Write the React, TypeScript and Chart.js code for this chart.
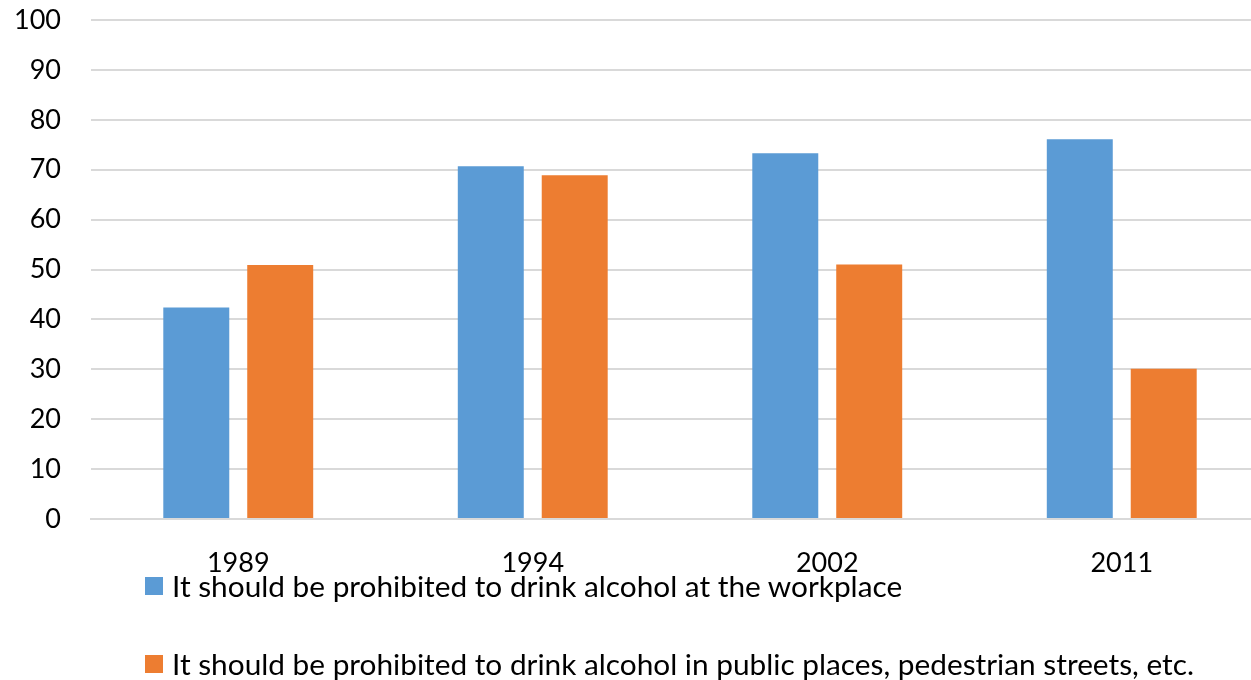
import React, { useEffect, useRef } from "react";
import { Chart, registerables } from "chart.js";

Chart.register(...registerables);

const categories = ["1989", "1994", "2002", "2011"];
const workplace = [42.4, 70.7, 73.3, 76.1];
const publicPlaces = [50.9, 68.9, 51.0, 30.1];
const seriesLabels = [
  "It should be prohibited to drink alcohol at the workplace",
  "It should be prohibited to drink alcohol in public places, pedestrian streets, etc.",
];
const seriesColors = ["#5B9BD5", "#ED7D31"];

const FONT = "Lato, 'Open Sans', sans-serif";

export default function App() {
  const canvasRef = useRef<HTMLCanvasElement | null>(null);

  useEffect(() => {
    if (!canvasRef.current) return;
    const chart = new Chart(canvasRef.current, {
      type: "bar",
      data: {
        labels: categories,
        datasets: [
          {
            label: seriesLabels[0],
            data: workplace,
            backgroundColor: seriesColors[0],
            borderWidth: 0,
          },
          {
            label: seriesLabels[1],
            data: publicPlaces,
            backgroundColor: seriesColors[1],
            borderWidth: 0,
          },
        ],
      },
      options: {
        responsive: false,
        animation: false,
        datasets: {
          bar: { categoryPercentage: 0.57, barPercentage: 0.786 },
        },
        layout: { padding: { top: 20, bottom: 102, left: 0, right: 0 } },
        plugins: {
          legend: { display: false },
          tooltip: { enabled: false },
        },
        scales: {
          x: {
            grid: { display: false },
            border: { display: true, color: "#d9d9d9", width: 2 },
            ticks: {
              color: "#000",
              padding: 20,
              font: { family: FONT, size: 27 },
            },
            afterFit: (scale: any) => {
              scale.height = 59;
              scale.paddingLeft = 0;
              scale.paddingRight = 0;
            },
          },
          y: {
            min: 0,
            max: 100,
            grid: { color: "#d9d9d9", lineWidth: 2, drawTicks: false },
            border: { display: false },
            ticks: {
              stepSize: 10,
              color: "#000",
              padding: 30,
              font: { family: FONT, size: 27 },
            },
            afterFit: (scale: any) => {
              scale.width = 91;
              scale.paddingTop = 0;
              scale.paddingBottom = 0;
            },
          },
        },
      },
    });
    return () => chart.destroy();
  }, []);

  const legendRows = [
    { center: 586, color: seriesColors[0], text: seriesLabels[0] },
    { center: 664, color: seriesColors[1], text: seriesLabels[1] },
  ];

  return (
    <div
      style={{
        position: "absolute",
        left: 0,
        top: 0,
        width: 1251,
        height: 680,
        overflow: "hidden",
        background: "#fff",
      }}
    >
      <canvas ref={canvasRef} width={1269} height={680} style={{ display: "block" }} />
      {legendRows.map((r, i) => (
        <div
          key={i}
          style={{
            position: "absolute",
            left: 145,
            top: r.center - 20,
            height: 40,
            display: "flex",
            alignItems: "center",
            fontFamily: FONT,
            fontSize: 29.8,
            lineHeight: "40px",
            color: "#000",
            whiteSpace: "nowrap",
          }}
        >
          <span
            style={{
              display: "inline-block",
              width: 18,
              height: 18,
              background: r.color,
              marginRight: 9,
              flex: "none",
            }}
          />
          <span>{r.text}</span>
        </div>
      ))}
    </div>
  );
}
